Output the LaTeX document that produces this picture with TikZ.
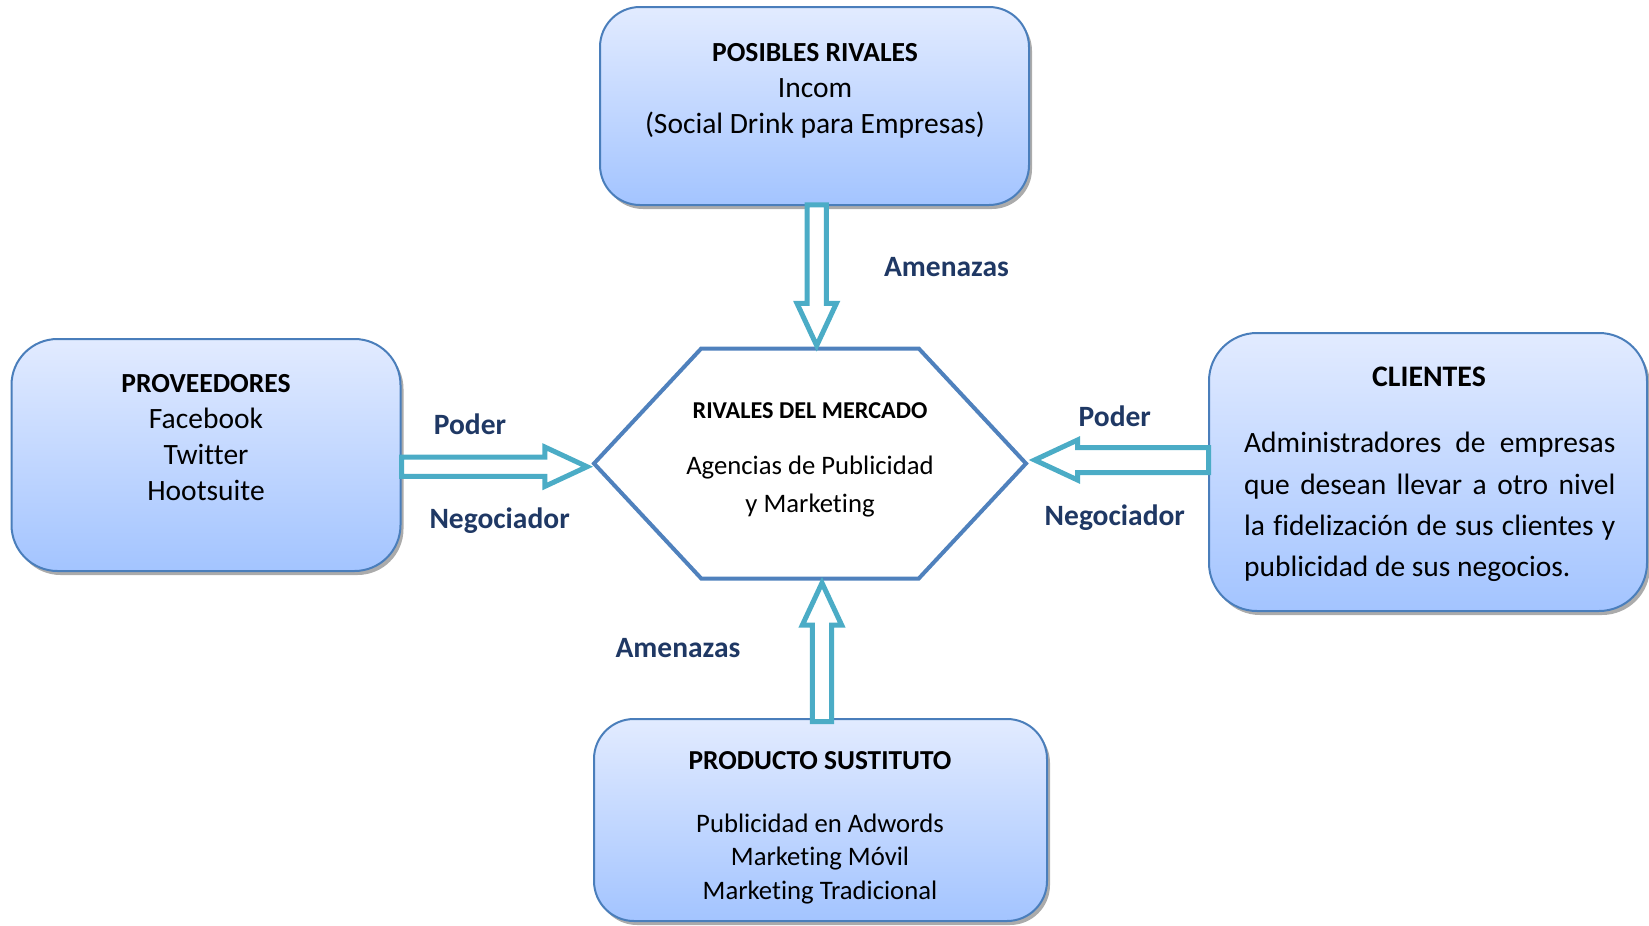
\documentclass[tikz,border=0pt]{standalone}
\usepackage{fontspec}
\setmainfont{Carlito}[Ligatures=NoCommon]
\usetikzlibrary{shapes.symbols, shapes.arrows, shadows, positioning, calc}

\definecolor{cajaborde}{RGB}{74,126,187}
\definecolor{cajaarriba}{RGB}{226,235,255}
\definecolor{cajaabajo}{RGB}{163,196,255}
\definecolor{hexborde}{RGB}{79,129,189}
\definecolor{turquesa}{RGB}{75,172,198}
\definecolor{marino}{RGB}{31,56,100}

\begin{document}
\begin{tikzpicture}[
    x=0.5pt, y=-0.5pt,
    caja/.style={
        rectangle, rounded corners=20pt,
        draw=cajaborde, line width=1pt,
        top color=cajaarriba, bottom color=cajaabajo,
        drop shadow={shadow xshift=1.5pt, shadow yshift=-2pt, fill=black!55, opacity=0.6}
    },
    texto/.style={
        align=center, inner sep=0pt,
        font=\fontsize{14.75}{18}\selectfont
    },
    titulo/.style={
        inner sep=0pt,
        font=\fontsize{13.7}{16}\selectfont\bfseries
    },
    hexagono/.style={
        signal, signal to=west and east, signal pointer angle=94,
        draw=hexborde, line width=2pt, fill=white,
        minimum width=216pt, minimum height=115pt, inner sep=0pt
    },
    flecha/.style={
        single arrow, draw=turquesa, line width=2.5pt, fill=white,
        single arrow head extend=5pt, single arrow tip angle=50,
        inner xsep=0pt, inner ysep=3.6pt, minimum width=17.5pt, anchor=tip
    },
    etiqueta/.style={
        font=\fontsize{14.75}{16}\selectfont\bfseries, text=marino, inner sep=0pt
    }
]
\useasboundingbox (0,0) rectangle (1649,926);

% Cajas
\node[caja, minimum width=214.5pt, minimum height=99pt] (rivales) at (814.5,106) {};
\node[texto, font=\fontsize{14.75}{18}\selectfont] (rivales-txt) at (815,91) {\textbf{\fontsize{13.8}{18}\selectfont POSIBLES RIVALES}\\Incom\\(Social Drink para Empresas)};

\node[caja, minimum width=194.5pt, minimum height=116pt, rounded corners=23pt] (proveedores) at (206,455) {};
\node[texto] (proveedores-txt) at (206,438) {\textbf{\fontsize{13.8}{18}\selectfont PROVEEDORES}\\Facebook\\Twitter\\Hootsuite};

\node[caja, minimum width=219pt, minimum height=139pt, rounded corners=24pt] (clientes) at (1428,472) {};
\node[titulo, font=\fontsize{14.9}{16}\selectfont\bfseries] (clientes-tit) at (1429,376.5) {CLIENTES};
\node[texto, align=justify, text width=185.6pt, font=\fontsize{14.75}{20.7}\selectfont] (clientes-txt) at (1429.7,507)
    {Administradores de empresas\linebreak que desean llevar a otro nivel\linebreak la fidelización de sus clientes y\linebreak publicidad de sus negocios.};

\node[caja, minimum width=226.5pt, minimum height=101pt] (sustituto) at (820.5,820) {};
\node[titulo] (sustituto-tit) at (820,761) {PRODUCTO SUSTITUTO};
\node[texto, font=\fontsize{13.35}{16.6}\selectfont] (sustituto-txt) at (820,859) {Publicidad en Adwords\\Marketing Móvil\\Marketing Tradicional};

% Hexagono central
\node[hexagono] (mercado) at (810,463.5) {};
\node[inner sep=0pt, font=\fontsize{12.1}{13}\selectfont\bfseries] (mercado-tit) at (810,411) {RIVALES DEL MERCADO};
\node[texto, font=\fontsize{13.35}{19}\selectfont] (mercado-txt) at (810,487) {Agencias de Publicidad\\y Marketing};

% Flechas de bloque
\node[flecha, minimum height=70.3pt, rotate=-90] (f-rivales) at ([xshift=3.35pt, yshift=-2.5pt]mercado.north) {};
\node[flecha, minimum height=69.3pt, rotate=90] (f-sustituto) at ([xshift=6pt, yshift=1.75pt]mercado.south) {};
\node[flecha, minimum height=92.7pt] (f-proveedores) at ([xshift=0.85pt, yshift=-1.6pt]mercado.west) {};
\node[flecha, minimum height=87pt, rotate=180, inner ysep=5pt, single arrow head extend=3.75pt] (f-clientes) at ([yshift=1.75pt]mercado.east) {};

% Etiquetas
\node[etiqueta] (amenaza-sup) at (946.5,267) {Amenazas};
\node[etiqueta] (amenaza-inf) at (678,648) {Amenazas};
\node[etiqueta] (poder-izq) at (470,424) {Poder};
\node[etiqueta] (negociador-izq) at (499.6,520.6) {Negociador};
\node[etiqueta] (poder-der) at (1114.8,416.5) {Poder};
\node[etiqueta] (negociador-der) at (1114.8,517.4) {Negociador};

\end{tikzpicture}
\end{document}
